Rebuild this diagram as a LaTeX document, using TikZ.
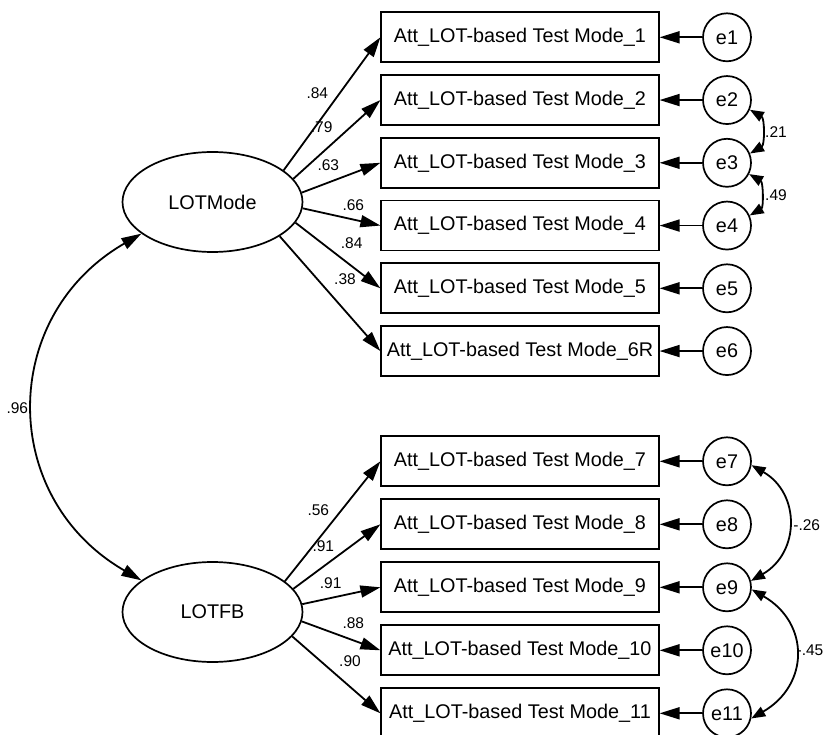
\documentclass[tikz,border=0pt]{standalone}
\usepackage{fontspec}
\setmainfont{Liberation Sans}
\usetikzlibrary{arrows.meta,shapes.geometric}

\begin{document}
\begin{tikzpicture}[x=1pt,y=1pt,
  every node/.style={font=\fontsize{19.8}{22}\selectfont},
  indicator/.style={draw, line width=1.7pt, minimum width=277.5pt, minimum height=50pt, inner sep=0pt},
  errterm/.style={draw, circle, line width=1.7pt, minimum size=48pt, inner sep=0pt},
  latent/.style={draw, ellipse, line width=1.7pt, minimum width=180pt, minimum height=100pt, inner sep=0pt},
  regress/.style={line width=1.8pt, -{Triangle[length=20pt,width=12pt]}},
  covarc/.style={line width=1.8pt, {Triangle[length=20pt,width=12pt]}-{Triangle[length=20pt,width=12pt]}},
  covsmall/.style={line width=1.8pt, {Triangle[length=14pt,width=10.5pt]}-{Triangle[length=14pt,width=10.5pt]}},
  coef/.style={font=\fontsize{15.5}{17}\selectfont, inner sep=0pt},
]
\useasboundingbox (0,0) rectangle (827,-735);

% latent factors
\node[latent] (mode) at (212.5,-202) {LOTMode};
\node[latent] (fb) at (212.5,-612) {LOTFB};

% observed indicators, first factor
\node[indicator] (b1) at (520,-37.3)   {Att\_LOT-based Test Mode\_1};
\node[indicator] (b2) at (520,-100.05) {Att\_LOT-based Test Mode\_2};
\node[indicator] (b3) at (520,-162.8)  {Att\_LOT-based Test Mode\_3};
\node[indicator] (b4) at (520,-225.55) {Att\_LOT-based Test Mode\_4};
\node[indicator] (b5) at (520,-288.3)  {Att\_LOT-based Test Mode\_5};
\node[indicator] (b6) at (520,-351.05) {Att\_LOT-based Test Mode\_6R};

% observed indicators, second factor
\node[indicator] (b7)  at (520,-461.3) {Att\_LOT-based Test Mode\_7};
\node[indicator] (b8)  at (520,-524.3) {Att\_LOT-based Test Mode\_8};
\node[indicator] (b9)  at (520,-587.3) {Att\_LOT-based Test Mode\_9};
\node[indicator] (b10) at (520,-650.3) {Att\_LOT-based Test Mode\_10};
\node[indicator] (b11) at (520,-713.3) {Att\_LOT-based Test Mode\_11};

% error terms and their paths
\foreach \i/\yy in {1/37.3,2/100.05,3/162.8,4/225.55,5/288.3,6/351.05,
                    7/461.3,8/524.3,9/587.3,10/650.3,11/713.3}{
  \node[errterm] (e\i) at (727,-\yy) {e\i};
  \draw[regress] (e\i) -- (b\i);
}

% factor loadings
\draw[regress] (mode.24.3) -- (b1.west);
\draw[regress] (mode.16.5) -- (b2.west);
\draw[regress] (mode.6.7)  -- (b3.west);
\draw[regress] (mode.-4)   -- (b4.west);
\draw[regress] (mode.-14.5) -- (b5.west);
\draw[regress] (mode.-27.2) -- (b6.west);

\draw[regress] (fb.23.8) -- (b7.west);
\draw[regress] (fb.16)   -- (b8.west);
\draw[regress] (fb.5)    -- (b9.west);
\draw[regress] (fb.-6.3) -- (b10.west);
\draw[regress] (fb.-17)  -- (b11.west);

% standardized loadings
\node[coef] at (317.3,-93.3)  {.84};
\node[coef] at (321.7,-127.3) {.79};
\node[coef] at (328.3,-165)   {.63};
\node[coef] at (353.3,-205)   {.66};
\node[coef] at (351.7,-242.7) {.84};
\node[coef] at (345,-279.3)   {.38};

\node[coef] at (318.3,-510)   {.56};
\node[coef] at (323.3,-546)   {.91};
\node[coef] at (330.7,-582.7) {.91};
\node[coef] at (353.3,-622.7) {.88};
\node[coef] at (350,-660.7)   {.90};

% correlations
\node[coef] at (17.3,-408.3) {.96};
\node[coef] at (776,-132.3)  {.21};
\node[coef] at (776,-195)    {.49};
\node[coef] at (806.7,-525)  {-.26};
\node[coef] at (810,-650.7)  {-.45};

\draw[covarc] (mode.-156.6) to[out=-150,in=150,looseness=1.22] (fb.156);
\draw[covsmall] (e2.-23) to[out=-30,in=30] (e3.22);
\draw[covsmall] (e3.-27) to[out=-30,in=30] (e4.24);
\draw[covsmall] (e7.-9) to[out=-30,in=30,looseness=1.25] (e9.15);
\draw[covsmall] (e9.-5) to[out=-30,in=30,looseness=1.33] (e11.-12);
\end{tikzpicture}
\end{document}
